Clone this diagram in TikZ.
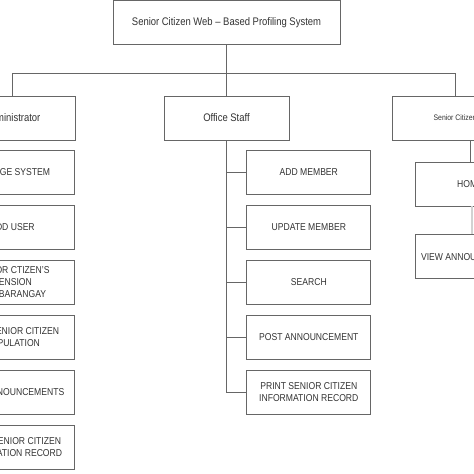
\documentclass[tikz,border=0pt]{standalone}
\usepackage{fontspec}
\setmainfont{Liberation Sans}[FakeStretch=0.86]
\usepackage{tikz}
\usetikzlibrary{arrows.meta}

\begin{document}
\begin{tikzpicture}[
    x=1pt, y=-1pt,
    box/.style={
        draw=black!60,
        line width=0.8pt,
        fill=white,
        text=black!80,
        align=center,
        minimum height=44pt,
        inner sep=1pt
    },
    topbox/.style={box, minimum width=227pt, font=\fontsize{11}{13}\selectfont},
    rolebox/.style={box, minimum width=125pt, font=\fontsize{11}{13}\selectfont},
    taskbox/.style={box, minimum width=124pt, font=\fontsize{10}{12}\selectfont},
    link/.style={black!60, line width=0.8pt}
]

    \useasboundingbox (0,0) rectangle (474,474);
    \clip (0,0) rectangle (474,474);

    % top of the tree
    \node[topbox] (system) at (226.5,22.5) {Senior Citizen Web -- Based Profiling System};

    % users
    \node[rolebox] (admin) at (12.5,118) {Administrator};
    \node[rolebox] (staff) at (226.5,118) {Office Staff};
    \node[rolebox, font=\fontsize{8}{10}\selectfont] (senior) at (455,118) {Senior Citizen};

    \draw[link] (system.south) -- (staff.north);
    \draw[link] (admin.north) -- ++(0,-22) -| (senior.north);

    % administrator tasks
    \node[taskbox] (a1) at (12.5,172.5) {MANAGE SYSTEM};
    \node[taskbox] (a2) at (12.5,227.5) {ADD USER};
    \node[taskbox] (a3) at (12.5,282.5) {SENIOR CTIZEN'S\\PENSION\\PER BARANGAY};
    \node[taskbox] (a4) at (12.5,337.5) {VIEW SENIOR CITIZEN\\POPULATION};
    \node[taskbox] (a5) at (12.5,392.5) {VIEW ANNOUNCEMENTS};
    \node[taskbox] (a6) at (12.5,447.5) {PRINT SENIOR CITIZEN\\INFORMATION RECORD};

    \draw[link] (admin.south) -- ++(0,0) -| ([xshift=-20pt]a6.west) -- (a6.west);
    \foreach \n in {a1,a2,a3,a4,a5} {
        \draw[link] ([xshift=-20pt]\n.west) -- (\n.west);
    }

    % office staff tasks
    \node[taskbox] (s1) at (308.8,172.5) {ADD MEMBER};
    \node[taskbox] (s2) at (308.8,227.5) {UPDATE MEMBER};
    \node[taskbox] (s3) at (308.8,282.5) {SEARCH};
    \node[taskbox] (s4) at (308.8,337.5) {POST ANNOUNCEMENT};
    \node[taskbox] (s5) at (308.8,392.5) {PRINT SENIOR CITIZEN\\INFORMATION RECORD};

    \draw[link] (staff.south) |- (s5.west);
    \foreach \n in {s1,s2,s3,s4} {
        \draw[link] (staff.south |- \n.west) -- (\n.west);
    }

    % senior citizen tasks
    \node[taskbox, minimum width=110pt] (home) at (470,184) {HOME};
    \node[taskbox, minimum width=110pt] (view) at (470,256.7) {VIEW ANNOUNCEMENT};

    \draw[link] (senior.south -| home.north) -- (home.north);
    \draw[gray!35, line width=1.6pt] ([xshift=2pt]home.south) -- ([xshift=2pt]view.north);

\end{tikzpicture}
\end{document}
